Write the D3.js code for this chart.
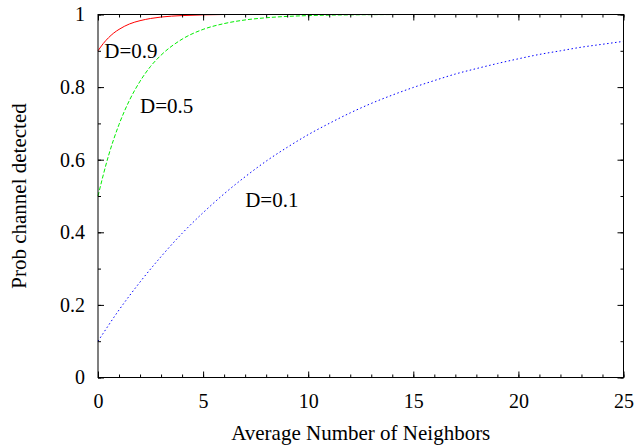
<!DOCTYPE html>
<html>
<head>
<meta charset="utf-8">
<script src="https://cdn.jsdelivr.net/npm/d3@7"></script>
<style>
  body { margin: 0; background: #fff; }
  svg text { font-family: "Liberation Serif", "Times New Roman", serif; fill: #000; }
</style>
</head>
<body>
<svg id="chart" width="644" height="445"></svg>
<script>
// values
const x09 = [0, 0.25, 0.5, 0.75, 1, 1.5, 2, 2.5, 3, 4, 5, 6, 10, 25];
const y09 = [0.900, 0.920, 0.936, 0.949, 0.959, 0.974, 0.983, 0.989, 0.993, 0.997, 0.999, 1.0, 1.0, 1.0];

const x05 = [0, 0.5, 1, 1.5, 2, 2.5, 3, 4, 5, 6, 7, 8, 10, 12, 15, 20, 25];
const y05 = [0.500, 0.611, 0.697, 0.764, 0.816, 0.857, 0.888, 0.932, 0.959, 0.975, 0.985, 0.991, 0.997, 0.999, 1.0, 1.0, 1.0];

const x01 = d3.range(0, 26);
const y01 = [0.100, 0.186, 0.263, 0.333, 0.397, 0.454, 0.506, 0.553, 0.596, 0.634,
             0.669, 0.700, 0.729, 0.755, 0.778, 0.799, 0.818, 0.836, 0.851, 0.865,
             0.878, 0.890, 0.900, 0.910, 0.918, 0.926];

const curveNames = ["D=0.9", "D=0.5", "D=0.1"];
const labelX = [0.3, 2, 7];
const labelY = [0.9, 0.75, 0.49];

const xTicks = [0, 5, 10, 15, 20, 25];
const yTicks = [0, 0.2, 0.4, 0.6, 0.8, 1];

const svg = d3.select("#chart");
const mLeft = 98, mRight = 623.5, mTop = 14.5, mBottom = 377.5;

const x = d3.scaleLinear().domain([0, 25]).range([mLeft, mRight]);
const y = d3.scaleLinear().domain([0, 1]).range([mBottom, mTop]);

const series = [
  {xs: x09, ys: y09, color: "#ff0000", dash: null},
  {xs: x05, ys: y05, color: "#00ee00", dash: "4,2"},
  {xs: x01, ys: y01, color: "#0000ff", dash: "1.5,2.5"}
];

const line = d3.line()
  .x(d => x(d[0]))
  .y(d => y(d[1]))
  .curve(d3.curveMonotoneX);

svg.append("g").selectAll("path")
  .data(series)
  .enter()
  .append("path")
  .attr("d", s => line(s.xs.map((v, i) => [v, s.ys[i]])))
  .attr("fill", "none")
  .attr("stroke", s => s.color)
  .attr("stroke-width", 1)
  .attr("stroke-dasharray", s => s.dash);

// inward ticks, mirrored on top and right
const xMinor = d3.range(0, 26);
const yMinor = d3.range(0, 11).map(v => v / 10);
const noDomain = g => g.select(".domain").remove();

svg.append("g").attr("transform", `translate(0,${mBottom})`)
  .call(d3.axisBottom(x).tickValues(xMinor).tickSize(-3).tickFormat("")).call(noDomain);
svg.append("g").attr("transform", `translate(0,${mTop})`)
  .call(d3.axisTop(x).tickValues(xMinor).tickSize(-3).tickFormat("")).call(noDomain);
svg.append("g").attr("transform", `translate(0,${mBottom})`)
  .call(d3.axisBottom(x).tickValues(xTicks).tickSize(-6).tickPadding(16).tickFormat(d3.format("d")))
  .call(noDomain)
  .selectAll("text").attr("font-size", 20);
svg.append("g").attr("transform", `translate(0,${mTop})`)
  .call(d3.axisTop(x).tickValues(xTicks).tickSize(-6).tickFormat("")).call(noDomain);

svg.append("g").attr("transform", `translate(${mLeft},0)`)
  .call(d3.axisLeft(y).tickValues(yMinor).tickSize(-3).tickFormat("")).call(noDomain);
svg.append("g").attr("transform", `translate(${mRight},0)`)
  .call(d3.axisRight(y).tickValues(yMinor).tickSize(-3).tickFormat("")).call(noDomain);
svg.append("g").attr("transform", `translate(${mLeft},0)`)
  .call(d3.axisLeft(y).tickValues(yTicks).tickSize(-6).tickPadding(13).tickFormat(d3.format("")))
  .call(noDomain)
  .selectAll("text").attr("font-size", 20);
svg.append("g").attr("transform", `translate(${mRight},0)`)
  .call(d3.axisRight(y).tickValues(yTicks).tickSize(-6).tickFormat("")).call(noDomain);

svg.selectAll(".tick line").attr("stroke", "#000");

svg.append("rect")
  .attr("x", mLeft).attr("y", mTop)
  .attr("width", mRight - mLeft).attr("height", mBottom - mTop)
  .attr("fill", "none").attr("stroke", "#000").attr("stroke-width", 1);

// curve labels
svg.append("g").selectAll("text")
  .data(curveNames)
  .enter()
  .append("text")
  .attr("x", (d, i) => x(labelX[i]))
  .attr("y", (d, i) => y(labelY[i]))
  .attr("dy", "0.35em")
  .attr("font-size", 21)
  .text(d => d);

svg.append("text")
  .attr("x", (mLeft + mRight) / 2)
  .attr("y", 440)
  .attr("text-anchor", "middle")
  .attr("font-size", 21)
  .text("Average Number of Neighbors");

svg.append("text")
  .attr("transform", `translate(26,${(mTop + mBottom) / 2}) rotate(-90)`)
  .attr("text-anchor", "middle")
  .attr("font-size", 21)
  .text("Prob channel detected");
</script>
</body>
</html>
